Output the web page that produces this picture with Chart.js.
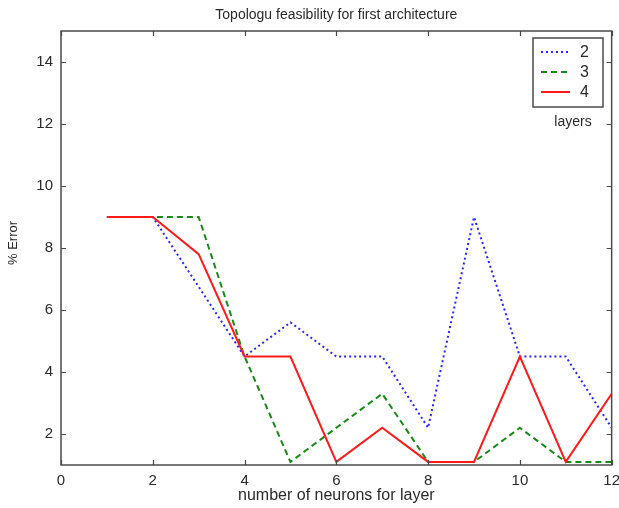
<!DOCTYPE html>
<html>
<head>
<meta charset="utf-8">
<script src="https://cdn.jsdelivr.net/npm/chart.js@4.4.1/dist/chart.umd.min.js"></script>
<style>
  html, body { margin: 0; padding: 0; background: #ffffff; }
  #wrap { width: 619px; height: 508px; position: relative; }
</style>
</head>
<body>
<div id="wrap"><canvas id="c" width="619" height="508"></canvas></div>
<script>
// ---- data ----
const neurons = [1, 2, 3, 4, 5, 6, 7, 8, 9, 10, 11, 12];
const layers2 = [9, 9, 6.75, 4.5, 5.6, 4.5, 4.5, 2.2, 9.0, 4.5, 4.5, 2.2];
const layers3 = [9, 9, 9, 4.5, 1.1, 2.2, 3.3, 1.1, 1.1, 2.2, 1.1, 1.1];
const layers4 = [9, 9, 7.8, 4.5, 4.5, 1.1, 2.2, 1.1, 1.1, 4.5, 1.1, 3.3];
const seriesNames = ['2', '3', '4'];
const xTicks = [0, 2, 4, 6, 8, 10, 12];
const yTicks = [2, 4, 6, 8, 10, 12, 14];
const titleText = 'Topologu feasibility for first architecture';
const xLabel = 'number of neurons for layer';
const yLabel = '% Error';
const legendTitle = 'layers';

const FONT = '"Liberation Sans", Arial, sans-serif';
const AXIS_COLOR = '#4a4a4a';
const TEXT_COLOR = '#2a2a2a';

function pts(vals) { return neurons.map((x, i) => ({ x: x, y: vals[i] })); }

const styles = [
  { color: '#2626ff', dash: [2, 3], width: 2 },
  { color: '#168a16', dash: [6, 4], width: 2 },
  { color: '#ff1a1a', dash: [], width: 2 }
];

const allSeries = [layers2, layers3, layers4];
const datasets = allSeries.map((vals, i) => ({
  label: seriesNames[i],
  data: pts(vals),
  borderColor: styles[i].color,
  borderDash: styles[i].dash,
  borderWidth: styles[i].width,
  pointRadius: 0,
  fill: false,
  tension: 0,
  order: 3 - i
}));

const framePlugin = {
  id: 'frame',
  afterDraw(chart) {
    const ctx = chart.ctx;
    const a = chart.chartArea;
    const xs = chart.scales.x, ys = chart.scales.y;
    ctx.save();
    // box
    ctx.strokeStyle = AXIS_COLOR;
    ctx.lineWidth = 1.5;
    ctx.setLineDash([]);
    ctx.strokeRect(a.left, a.top, a.right - a.left, a.bottom - a.top);
    // inward ticks
    ctx.lineWidth = 1.2;
    const tl = 5;
    ctx.beginPath();
    xTicks.forEach(v => {
      const px = Math.round(xs.getPixelForValue(v)) + 0.5;
      ctx.moveTo(px, a.bottom); ctx.lineTo(px, a.bottom - tl);
      ctx.moveTo(px, a.top); ctx.lineTo(px, a.top + tl);
    });
    yTicks.forEach(v => {
      const py = Math.round(ys.getPixelForValue(v)) + 0.5;
      ctx.moveTo(a.left, py); ctx.lineTo(a.left + tl, py);
      ctx.moveTo(a.right, py); ctx.lineTo(a.right - tl, py);
    });
    ctx.stroke();

    // title
    ctx.fillStyle = TEXT_COLOR;
    ctx.textAlign = 'center';
    ctx.textBaseline = 'middle';
    ctx.font = '14px ' + FONT;
    ctx.fillText(titleText, (a.left + a.right) / 2, 15);
    // x label
    ctx.font = '16px ' + FONT;
    ctx.fillText(xLabel, (a.left + a.right) / 2, 496);
    // y label
    ctx.font = '13px ' + FONT;
    ctx.save();
    ctx.translate(13, 243);
    ctx.rotate(-Math.PI / 2);
    ctx.fillText(yLabel, 0, 0);
    ctx.restore();

    // legend box
    const bx = 533, by = 38, bw = 70, bh = 69;
    ctx.fillStyle = '#ffffff';
    ctx.fillRect(bx, by, bw, bh);
    ctx.strokeStyle = AXIS_COLOR;
    ctx.lineWidth = 1.5;
    ctx.strokeRect(bx, by, bw, bh);
    const rowsY = [52, 72, 92];
    chart.data.datasets.forEach((ds, i) => {
      ctx.strokeStyle = ds.borderColor;
      ctx.lineWidth = ds.borderWidth;
      ctx.setLineDash(ds.borderDash);
      ctx.beginPath();
      ctx.moveTo(541, rowsY[i]);
      ctx.lineTo(570, rowsY[i]);
      ctx.stroke();
      ctx.setLineDash([]);
      ctx.fillStyle = TEXT_COLOR;
      ctx.font = '16px ' + FONT;
      ctx.textAlign = 'left';
      ctx.fillText(ds.label, 580, rowsY[i] + 1);
    });
    ctx.font = '14px ' + FONT;
    ctx.textAlign = 'center';
    ctx.fillStyle = TEXT_COLOR;
    ctx.fillText(legendTitle, 573, 122);
    ctx.restore();
  }
};

new Chart(document.getElementById('c'), {
  type: 'line',
  data: { datasets: datasets },
  options: {
    responsive: false,
    animation: false,
    devicePixelRatio: 1,
    layout: { padding: { top: 31, right: 0, left: 0, bottom: 0 } },
    plugins: { legend: { display: false }, title: { display: false }, tooltip: { enabled: false } },
    scales: {
      x: {
        type: 'linear',
        min: 0, max: 12,
        grid: { display: false },
        border: { display: false },
        afterBuildTicks: s => { s.ticks = xTicks.map(v => ({ value: v })); },
        afterFit: s => { s.height = 43; },
        ticks: { color: TEXT_COLOR, font: { family: FONT, size: 15 }, padding: -1, maxRotation: 0, autoSkip: false }
      },
      y: {
        type: 'linear',
        min: 1, max: 15,
        grid: { display: false },
        border: { display: false },
        afterBuildTicks: s => { s.ticks = yTicks.map(v => ({ value: v })); },
        afterFit: s => { s.width = 61; },
        ticks: { color: TEXT_COLOR, font: { family: FONT, size: 15 }, padding: 0, autoSkip: false }
      }
    }
  },
  plugins: [framePlugin]
});
</script>
</body>
</html>
